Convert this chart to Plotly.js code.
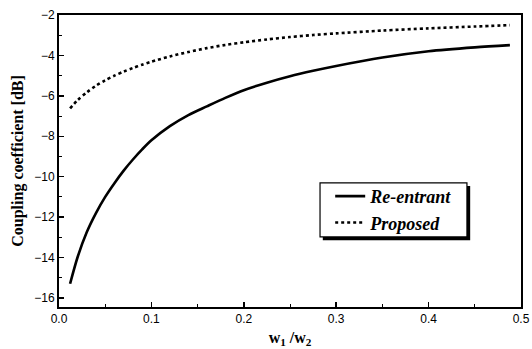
<!DOCTYPE html>
<html><head><meta charset="utf-8">
<script src="https://cdn.plot.ly/plotly-3.0.1.min.js"></script>
<style>html,body{margin:0;padding:0;background:#fff}#plot{width:532px;height:349px}</style>
</head><body><div id="plot"></div>
<script>
const ratio = [0.012,0.02,0.03,0.04,0.05,0.06,0.07,0.08,0.09,0.1,0.12,0.14,0.16,0.18,0.2,0.225,0.25,0.275,0.3,0.35,0.4,0.45,0.488];
const reEntrant = [-15.3,-14.0,-12.75,-11.8,-11.0,-10.32,-9.7,-9.15,-8.65,-8.2,-7.5,-6.95,-6.52,-6.1,-5.72,-5.35,-5.03,-4.76,-4.52,-4.1,-3.79,-3.6,-3.49];
const proposed = [-6.62,-6.22,-5.83,-5.5,-5.23,-5.0,-4.8,-4.62,-4.46,-4.31,-4.05,-3.83,-3.64,-3.48,-3.35,-3.21,-3.09,-2.99,-2.91,-2.77,-2.66,-2.57,-2.5];
const seriesNames = ['Re-entrant','Proposed'];
const xTicks = [0.0,0.1,0.2,0.3,0.4,0.5];
const xTickLabels = ['0.0','0.1','0.2','0.3','0.4','0.5'];
const yTicks = [-16,-14,-12,-10,-8,-6,-4,-2];

const traces = [
  {x: ratio, y: reEntrant, name: seriesNames[0], mode: 'lines', line: {color: '#000', width: 2.6, shape: 'spline', smoothing: 0.8}},
  {x: ratio, y: proposed, name: seriesNames[1], mode: 'lines', line: {color: '#000', width: 2.6, dash: 'dot', shape: 'spline', smoothing: 0.8}}
];
const serif = 'Liberation Serif, Times New Roman, serif';
const axisCommon = {
  showgrid: false, zeroline: false, showline: true, linecolor: '#000', linewidth: 2, mirror: true,
  ticks: 'inside', ticklen: 5, tickwidth: 1.5, tickcolor: '#000',
  tickfont: {family: 'Liberation Sans, Arial, sans-serif', size: 12, color: '#000'}
};
const layout = {
  width: 532, height: 349,
  margin: {l: 59, r: 11, t: 15, b: 42},
  paper_bgcolor: '#fff', plot_bgcolor: '#fff',
  showlegend: true,
  legend: {
    x: 0.587, y: 0.442, xanchor: 'left', yanchor: 'top',
    bgcolor: 'rgba(0,0,0,0)', borderwidth: 0,
    font: {family: serif, size: 18, color: '#000', weight: 'bold', style: 'italic'},
    tracegroupgap: 0
  },
  xaxis: Object.assign({}, axisCommon, {
    range: [0, 0.5], tickvals: xTicks, ticktext: xTickLabels,
    minor: {dtick: 0.05, ticks: 'inside', ticklen: 3, tickwidth: 1, tickcolor: '#000'},
    title: {text: '<b>w<sub>1</sub> /w<sub>2</sub></b>', standoff: 6, font: {family: serif, size: 16, color: '#000'}}
  }),
  yaxis: Object.assign({}, axisCommon, {
    range: [-16.45, -2], tickvals: yTicks,
    minor: {dtick: 1, ticks: 'inside', ticklen: 3, tickwidth: 1, tickcolor: '#000'},
    title: {text: '<b>Coupling coefficient [dB]</b>', standoff: 7, font: {family: serif, size: 16, color: '#000'}}
  }),
  shapes: [
    {type: 'rect', xref: 'paper', yref: 'paper', x0: 0.571, x1: 0.890, y0: 0.229, y1: 0.414, fillcolor: '#000', line: {width: 0}, layer: 'above'},
    {type: 'rect', xref: 'paper', yref: 'paper', x0: 0.565, x1: 0.883, y0: 0.240, y1: 0.425, fillcolor: '#fff', line: {width: 1.2, color: '#000'}, layer: 'above'}
  ]
};
Plotly.newPlot('plot', traces, layout, {displayModeBar: false, staticPlot: true});
</script></body></html>
